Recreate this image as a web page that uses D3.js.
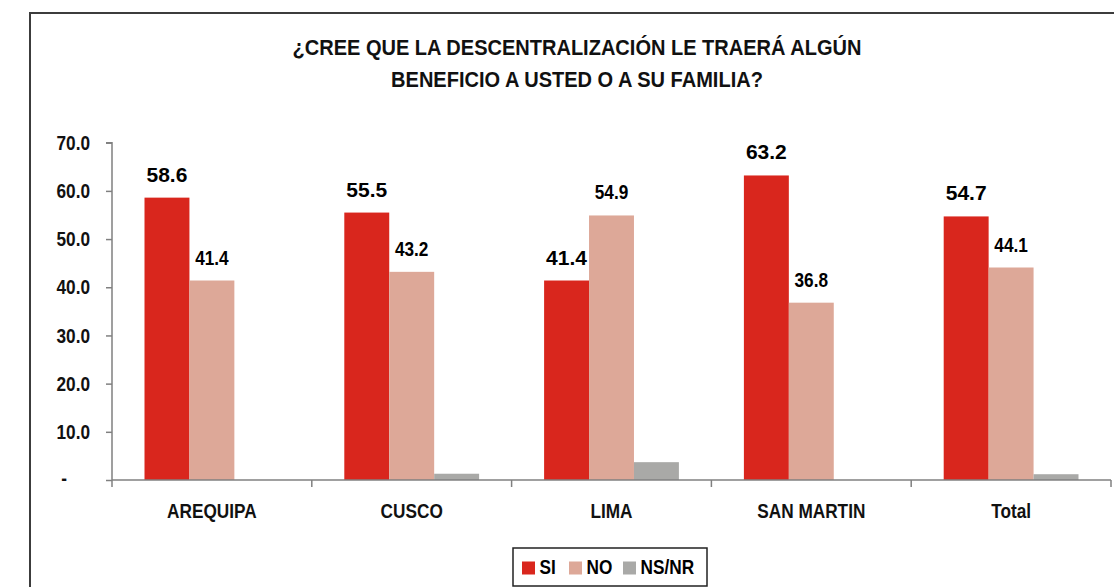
<!DOCTYPE html>
<html>
<head>
<meta charset="utf-8">
<script src="https://cdn.jsdelivr.net/npm/d3@7"></script>
<style>
  body { margin: 0; background: #fff; }
  svg { display: block; }
  .narrow { font-family: "Liberation Sans Narrow", "Arial Narrow", "Liberation Sans", Arial, sans-serif; font-weight: bold; }
  .wide { font-family: "Liberation Sans", Arial, sans-serif; font-weight: bold; }
</style>
</head>
<body>
<main></main>
<script>
const categories = ['AREQUIPA', 'CUSCO', 'LIMA', 'SAN MARTIN', 'Total'];
const seriesNames = ['SI', 'NO', 'NS/NR'];
const siValues = [58.6, 55.5, 41.4, 63.2, 54.7];
const noValues = [41.4, 43.2, 54.9, 36.8, 44.1];
const nsValues = [0, 1.3, 3.7, 0, 1.2];
const yTicks = [0, 10, 20, 30, 40, 50, 60, 70];
const titleLines = ['¿CREE QUE LA DESCENTRALIZACIÓN LE TRAERÁ ALGÚN', 'BENEFICIO A USTED O A SU FAMILIA?'];

const w = 1114;
const h = 587;
const colors = ['#d9261d', '#dda898', '#a9a9a7'];
const svg = d3.select('main').append('svg').attr('width', w).attr('height', h);

// squeeze text horizontally when no narrow face is installed
function squeeze(sel, f) {
    sel.each(function () {
        const len = this.getComputedTextLength();
        if (len > 0) d3.select(this).attr('textLength', len * f).attr('lengthAdjust', 'spacingAndGlyphs');
    });
}

// outer frame (only top and left visible)
svg.append('path')
    .attr('d', 'M30,' + (h + 5) + 'V13H' + (w + 5))
    .attr('fill', 'none')
    .attr('stroke', '#3c3c3c')
    .attr('stroke-width', 2);

const title = svg.append('g').selectAll('text')
    .data(titleLines)
    .enter()
    .append('text')
    .attr('class', 'narrow')
    .attr('x', 577)
    .attr('y', (d, i) => 55 + i * 32)
    .attr('text-anchor', 'middle')
    .attr('font-size', 22.5)
    .attr('fill', '#111')
    .text(d => d);
const titleF = 569 / title.node().getComputedTextLength();
squeeze(title, titleF);

const x0 = d3.scaleBand().domain(categories).range([112, 1111]);
const x1 = d3.scaleBand().domain(seriesNames).range([32.5, x0.bandwidth() - 32.5]);
const y = d3.scaleLinear().domain([0, 70]).range([480, 142.7]);

const rows = categories.map((c, i) => ({cat: c, vals: [siValues[i], noValues[i], nsValues[i]]}));

const groups = svg.append('g').selectAll('g')
    .data(rows)
    .enter()
    .append('g')
    .attr('transform', d => `translate(${x0(d.cat)},0)`);

groups.selectAll('rect')
    .data(d => d.vals.map((v, k) => ({name: seriesNames[k], v: v, k: k})))
    .enter()
    .append('rect')
    .attr('x', d => x1(d.name))
    .attr('width', x1.bandwidth())
    .attr('y', d => y(d.v))
    .attr('height', d => y(0) - y(d.v))
    .attr('fill', d => colors[d.k]);

// value labels SI (wider) and NO (narrow)
groups.append('text')
    .attr('class', 'wide')
    .attr('font-size', 21)
    .attr('text-anchor', 'middle')
    .attr('x', x1('SI') + x1.bandwidth() / 2)
    .attr('y', d => y(d.vals[0]) - 16)
    .text(d => d.vals[0].toFixed(1));
const noLabels = groups.append('text')
    .attr('class', 'narrow')
    .attr('font-size', 20.5)
    .attr('text-anchor', 'middle')
    .attr('x', x1('NO') + x1.bandwidth() / 2)
    .attr('y', d => y(d.vals[1]) - 16)
    .text(d => d.vals[1].toFixed(1));
squeeze(noLabels, 0.84);

// y axis
const yAxis = d3.axisLeft(y).tickValues(yTicks).tickSize(6).tickPadding(16)
    .tickFormat(v => v === 0 ? '-' : v.toFixed(1));
const gy = svg.append('g').attr('transform', 'translate(112,0)').call(yAxis);
gy.select('.domain').attr('stroke', '#808080').attr('stroke-width', 1.5).attr('d', 'M-6,142.7H0V480');
gy.selectAll('.tick line').attr('stroke', '#808080').attr('stroke-width', 1.5);
const yText = gy.selectAll('.tick text')
    .attr('class', 'narrow')
    .attr('font-size', 20.5)
    .attr('fill', '#111')
    .attr('font-family', null);
squeeze(yText, 0.84);
gy.selectAll('.tick text').filter(d => d === 0).attr('x', -45).attr('dy', '0.2em');

// x axis
const xAxis = d3.axisBottom(x0).tickSize(0).tickPadding(23);
const gx = svg.append('g').attr('transform', 'translate(0,480)').call(xAxis);
gx.select('.domain').attr('stroke', '#808080').attr('stroke-width', 1.5).attr('d', 'M112,0H1111');
const xText = gx.selectAll('.tick text')
    .attr('class', 'narrow')
    .attr('font-size', 20.5)
    .attr('fill', '#111')
    .attr('font-family', null);
squeeze(xText, 0.84);
gx.selectAll('.sep')
    .data(categories.map(c => x0(c)).concat([x0.range()[1]]))
    .enter()
    .append('line')
    .attr('class', 'sep')
    .attr('x1', d => d).attr('x2', d => d)
    .attr('y1', 0).attr('y2', 7)
    .attr('stroke', '#808080')
    .attr('stroke-width', 1.5);

// legend
const legend = svg.append('g').attr('transform', 'translate(513,548)');
legend.append('rect')
    .attr('width', 194).attr('height', 38)
    .attr('fill', '#fff').attr('stroke', '#222').attr('stroke-width', 1.5);
const legendX = [9, 56, 110];
const items = legend.selectAll('g.item')
    .data(seriesNames)
    .enter()
    .append('g')
    .attr('class', 'item')
    .attr('transform', (d, i) => `translate(${legendX[i]},0)`);
items.append('rect')
    .attr('y', 13.5).attr('width', 13).attr('height', 13)
    .attr('fill', (d, i) => colors[i]);
const legText = items.append('text')
    .attr('class', 'narrow')
    .attr('font-size', 20.5)
    .attr('x', 17.5)
    .attr('y', 26)
    .text(d => d);
squeeze(legText, 0.84);
</script>
</body>
</html>
